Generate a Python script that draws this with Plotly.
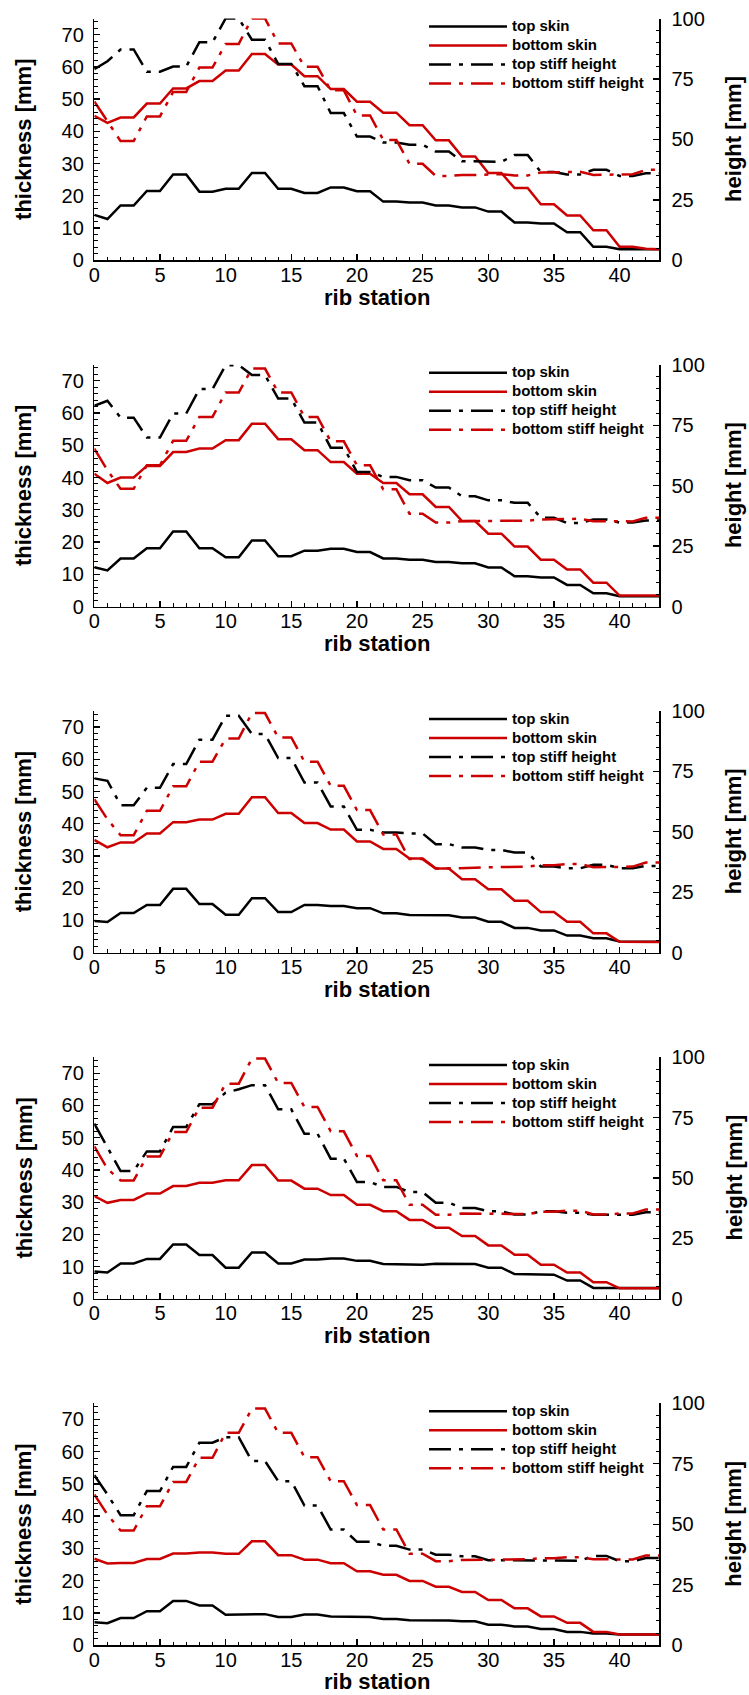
import plotly.graph_objects as go

W, H = 749, 1695

rib_station = list(range(44))
x_tick_vals = [0, 5, 10, 15, 20, 25, 30, 35, 40]
thickness_ticks = [0, 10, 20, 30, 40, 50, 60, 70]
height_ticks = [0, 25, 50, 75, 100]
series_names = ["top skin", "bottom skin", "top stiff height", "bottom stiff height"]
x_title = "rib station"
y_title_left = "thickness [mm]"
y_title_right = "height [mm]"

# ---- panel 1 ----
top_skin_1 = [14.1, 12.8, 17.0, 17.0, 21.5, 21.5, 26.6, 26.6, 21.3, 21.3, 22.2, 22.2, 27.1, 27.1, 22.2, 22.2, 20.9, 20.9, 22.6, 22.6, 21.4, 21.4, 18.2, 18.2, 17.9, 17.9, 17.0, 17.0, 16.4, 16.4, 15.1, 15.1, 11.7, 11.7, 11.4, 11.4, 8.7, 8.7, 4.2, 4.2, 3.4, 3.4, 3.4, 3.4]
bottom_skin_1 = [44.8, 42.6, 44.3, 44.3, 48.6, 48.6, 53.3, 53.3, 55.6, 55.6, 58.9, 58.9, 64.0, 64.0, 60.7, 60.7, 57.1, 57.1, 53.1, 53.1, 49.2, 49.2, 45.8, 45.8, 41.9, 41.9, 37.2, 37.2, 32.2, 32.2, 27.1, 27.1, 22.4, 22.4, 17.4, 17.4, 13.9, 13.9, 9.3, 9.3, 4.2, 4.2, 3.6, 3.4]
top_stiff_1 = [79.0, 82.3, 87.2, 87.2, 78.0, 78.0, 80.1, 80.1, 90.2, 90.2, 100.0, 100.0, 91.2, 91.2, 81.2, 81.2, 72.0, 72.0, 60.9, 60.9, 51.2, 51.2, 48.7, 48.7, 47.8, 47.8, 45.0, 45.0, 41.0, 41.0, 40.7, 40.7, 43.6, 43.6, 36.5, 36.5, 35.5, 35.5, 37.4, 37.4, 34.9, 34.9, 36.0, 36.0]
bottom_stiff_1 = [65.7, 57.4, 49.3, 49.3, 59.5, 59.5, 69.6, 69.6, 79.7, 79.7, 89.5, 89.5, 100.0, 100.0, 89.7, 89.7, 80.0, 80.0, 70.3, 70.3, 59.9, 59.9, 49.8, 49.8, 39.9, 39.9, 34.9, 34.9, 35.3, 35.3, 35.6, 35.6, 35.1, 35.1, 36.3, 36.3, 36.6, 36.6, 35.3, 35.3, 35.6, 35.6, 37.4, 37.4]

# ---- panel 2 ----
top_skin_2 = [12.2, 11.2, 14.9, 14.9, 18.1, 18.1, 23.3, 23.3, 18.1, 18.1, 15.3, 15.3, 20.5, 20.5, 15.6, 15.6, 17.3, 17.3, 17.9, 17.9, 16.9, 16.9, 14.9, 14.9, 14.5, 14.5, 13.8, 13.8, 13.4, 13.4, 12.1, 12.1, 9.4, 9.4, 9.0, 9.0, 6.7, 6.7, 4.1, 4.1, 3.2, 3.2, 3.2, 3.2]
bottom_skin_2 = [41.2, 38.3, 40.0, 40.0, 43.6, 43.6, 47.9, 47.9, 49.0, 49.0, 51.6, 51.6, 56.7, 56.7, 51.9, 51.9, 48.5, 48.5, 44.8, 44.8, 41.2, 41.2, 38.3, 38.3, 34.8, 34.8, 30.9, 30.9, 26.5, 26.5, 22.6, 22.6, 18.6, 18.6, 14.5, 14.5, 11.5, 11.5, 7.4, 7.4, 3.4, 3.4, 3.4, 3.4]
top_stiff_2 = [83.0, 85.1, 78.1, 78.1, 69.9, 69.9, 79.8, 79.8, 89.9, 89.9, 99.8, 99.8, 95.7, 95.7, 86.0, 86.0, 76.1, 76.1, 65.7, 65.7, 55.6, 55.6, 53.6, 53.6, 52.2, 52.2, 49.2, 49.2, 45.6, 45.6, 43.9, 43.9, 42.9, 42.9, 36.7, 36.7, 34.5, 34.5, 36.0, 36.0, 34.7, 34.7, 35.6, 35.6]
bottom_stiff_2 = [65.3, 56.3, 48.7, 48.7, 58.4, 58.4, 68.5, 68.5, 78.4, 78.4, 88.5, 88.5, 98.4, 98.4, 88.5, 88.5, 78.4, 78.4, 68.3, 68.3, 58.4, 58.4, 48.5, 48.5, 38.4, 38.4, 34.7, 34.7, 35.3, 35.3, 35.3, 35.3, 35.5, 35.5, 36.0, 36.0, 36.3, 36.3, 35.3, 35.3, 35.2, 35.2, 36.7, 36.7]

# ---- panel 3 ----
top_skin_3 = [9.8, 9.5, 12.3, 12.3, 14.8, 14.8, 19.8, 19.8, 15.1, 15.1, 11.8, 11.8, 16.9, 16.9, 12.6, 12.6, 14.8, 14.8, 14.5, 14.5, 13.8, 13.8, 12.2, 12.2, 11.7, 11.7, 11.6, 11.6, 10.9, 10.9, 9.6, 9.6, 7.7, 7.7, 6.9, 6.9, 5.3, 5.3, 4.5, 4.5, 3.5, 3.5, 3.4, 3.4]
bottom_skin_3 = [35.0, 32.7, 34.2, 34.2, 37.0, 37.0, 40.5, 40.5, 41.3, 41.3, 43.1, 43.1, 48.2, 48.2, 43.3, 43.3, 40.2, 40.2, 38.2, 38.2, 34.5, 34.5, 32.2, 32.2, 29.2, 29.2, 26.1, 26.1, 22.8, 22.8, 19.7, 19.7, 16.1, 16.1, 12.6, 12.6, 9.6, 9.6, 6.0, 6.0, 3.4, 3.4, 3.3, 3.3]
top_stiff_3 = [72.1, 71.1, 61.0, 61.0, 68.2, 68.2, 78.0, 78.0, 88.1, 88.1, 98.0, 98.0, 90.4, 90.4, 80.5, 80.5, 70.4, 70.4, 60.5, 60.5, 50.8, 50.8, 49.7, 49.7, 49.3, 49.3, 44.9, 44.9, 43.5, 43.5, 42.5, 42.5, 41.4, 41.4, 35.6, 35.6, 34.9, 34.9, 36.4, 36.4, 34.9, 34.9, 35.9, 35.9]
bottom_stiff_3 = [63.5, 55.2, 48.6, 48.6, 58.7, 58.7, 68.8, 68.8, 79.0, 79.0, 88.6, 88.6, 99.1, 99.1, 89.0, 89.0, 79.0, 79.0, 69.0, 69.0, 59.0, 59.0, 48.9, 48.9, 38.7, 38.7, 34.8, 34.8, 35.1, 35.1, 35.3, 35.3, 35.6, 35.6, 36.2, 36.2, 36.7, 36.7, 35.3, 35.3, 35.6, 35.6, 37.3, 37.3]

# ---- panel 4 ----
top_skin_4 = [8.5, 8.2, 11.0, 11.0, 12.4, 12.4, 16.9, 16.9, 13.6, 13.6, 9.7, 9.7, 14.4, 14.4, 11.0, 11.0, 12.2, 12.2, 12.5, 12.5, 11.8, 11.8, 10.8, 10.8, 10.6, 10.6, 10.9, 10.9, 10.8, 10.8, 9.7, 9.7, 7.7, 7.7, 7.5, 7.5, 5.7, 5.7, 3.4, 3.4, 3.4, 3.4, 3.4, 3.4]
bottom_skin_4 = [31.9, 29.8, 30.7, 30.7, 32.7, 32.7, 35.0, 35.0, 36.0, 36.0, 36.8, 36.8, 41.5, 41.5, 36.7, 36.7, 34.2, 34.2, 32.2, 32.2, 29.2, 29.2, 27.2, 27.2, 24.5, 24.5, 22.1, 22.1, 19.5, 19.5, 16.6, 16.6, 13.7, 13.7, 10.6, 10.6, 8.2, 8.2, 5.2, 5.2, 3.3, 3.3, 3.3, 3.3]
top_stiff_4 = [72.5, 62.8, 52.9, 52.9, 61.0, 61.0, 71.1, 71.1, 80.5, 80.5, 85.3, 86.7, 88.4, 88.4, 78.4, 78.4, 68.3, 68.3, 58.0, 58.0, 48.3, 48.3, 46.3, 46.3, 44.2, 44.2, 39.8, 39.8, 37.6, 37.6, 36.2, 36.2, 34.9, 34.9, 36.2, 36.2, 35.6, 35.6, 34.8, 34.8, 34.8, 34.8, 35.8, 35.8]
bottom_stiff_4 = [63.1, 53.8, 49.0, 49.0, 58.9, 58.9, 69.0, 69.0, 79.1, 79.1, 89.0, 89.0, 99.4, 99.4, 89.3, 89.3, 79.4, 79.4, 69.3, 69.3, 59.1, 59.1, 49.1, 49.1, 38.9, 38.9, 34.8, 34.8, 35.3, 35.3, 35.3, 35.3, 35.1, 35.1, 36.0, 36.0, 36.5, 36.5, 34.9, 34.9, 35.3, 35.3, 37.0, 37.0]

# ---- panel 5 ----
top_skin_5 = [7.1, 6.8, 8.4, 8.4, 10.5, 10.5, 13.7, 13.7, 12.3, 12.3, 9.4, 9.4, 9.6, 9.6, 8.7, 8.7, 9.5, 9.5, 8.9, 8.9, 8.7, 8.7, 8.1, 8.1, 7.7, 7.7, 7.6, 7.6, 7.4, 7.4, 6.3, 6.3, 5.8, 5.8, 5.0, 5.0, 4.1, 4.1, 3.6, 3.6, 3.3, 3.3, 3.3, 3.3]
bottom_skin_5 = [26.8, 25.3, 25.5, 25.5, 26.7, 26.7, 28.4, 28.4, 28.7, 28.7, 28.3, 28.3, 32.2, 32.2, 27.9, 27.9, 26.5, 26.5, 25.4, 25.4, 22.9, 22.9, 21.8, 21.8, 19.9, 19.9, 18.1, 18.1, 16.5, 16.5, 14.0, 14.0, 11.4, 11.4, 8.9, 8.9, 6.9, 6.9, 4.1, 4.1, 3.3, 3.3, 3.3, 3.3]
top_stiff_5 = [70.3, 62.3, 53.7, 53.7, 63.7, 63.7, 73.7, 73.7, 83.7, 83.7, 86.0, 86.0, 76.1, 76.1, 67.8, 67.8, 57.7, 57.7, 47.8, 47.8, 42.7, 42.7, 41.1, 41.1, 39.5, 39.5, 37.4, 37.4, 36.7, 36.7, 35.1, 35.1, 35.1, 35.1, 34.9, 34.9, 34.9, 34.9, 36.9, 36.9, 34.7, 34.7, 36.0, 36.0]
bottom_stiff_5 = [62.3, 54.0, 47.4, 47.4, 57.4, 57.4, 67.5, 67.5, 77.5, 77.5, 87.8, 87.8, 97.8, 97.8, 87.8, 87.8, 77.7, 77.7, 67.8, 67.8, 57.9, 57.9, 47.8, 47.8, 37.8, 37.8, 34.7, 34.7, 35.2, 35.2, 35.2, 35.2, 35.5, 35.5, 35.9, 35.9, 36.3, 36.3, 35.5, 35.5, 35.4, 35.4, 37.1, 37.1]

panels = [
    (top_skin_1, bottom_skin_1, top_stiff_1, bottom_stiff_1),
    (top_skin_2, bottom_skin_2, top_stiff_2, bottom_stiff_2),
    (top_skin_3, bottom_skin_3, top_stiff_3, bottom_stiff_3),
    (top_skin_4, bottom_skin_4, top_stiff_4, bottom_stiff_4),
    (top_skin_5, bottom_skin_5, top_stiff_5, bottom_stiff_5),
]

# ---- styling / layout constants ----
BLACK = "#000000"
RED = "#cc0000"
DASHDOT = "22px,8px,4px,8px"
LW = 2.5
FAMILY = "Liberation Sans, Arial, Helvetica, sans-serif"
TICK_FONT = dict(family=FAMILY, size=20, color="black")
TITLE_FONT = dict(family=FAMILY, size=22, color="black", weight="bold")
LEG_FONT = dict(family=FAMILY, size=12, color="black", weight="bold")
LEG_TEXT_PX = 15

X_LEFT_PX, X_RIGHT_PX = 94.3, 659.0
PANEL_TOP_PX, PANEL_BOT_PX, PANEL_STEP_PX = 18.5, 260.3, 346.2
LEG_X_PX, LEG_TOP_PX = 424.0, 12.0
XTITLE_Y_PX = 297.0
YTITLE_L_X_PX, YTITLE_R_X_PX = 23.5, 733.5

styles = [
    dict(color=BLACK, dash="solid"),
    dict(color=RED, dash="solid"),
    dict(color=BLACK, dash=DASHDOT),
    dict(color=RED, dash=DASHDOT),
]

fig = go.Figure()
layout = dict(
    width=W, height=H, margin=dict(l=0, r=0, t=0, b=0, autoexpand=False),
    paper_bgcolor="white", plot_bgcolor="white", template="none",
    showlegend=True,
)
annotations = []

for i, series in enumerate(panels):
    n = i + 1
    xa = "x" if n == 1 else f"x{n}"
    ya_l = "y" if n == 1 else f"y{2 * i + 1}"
    ya_r = f"y{2 * i + 2}"
    leg = "legend" if n == 1 else f"legend{n}"
    for k, (vals, name, st) in enumerate(zip(series, series_names, styles)):
        fig.add_trace(go.Scatter(
            x=rib_station, y=vals,
            name=f"<span style='font-size:{LEG_TEXT_PX}px'>{name}</span>",
            mode="lines",
            line=dict(color=st["color"], width=LW, dash=st["dash"]),
            xaxis=xa, yaxis=ya_l if k < 2 else ya_r,
            legend=leg, hoverinfo="skip",
        ))

    top_px = PANEL_TOP_PX + PANEL_STEP_PX * i
    bot_px = PANEL_BOT_PX + PANEL_STEP_PX * i
    ydom = [1 - bot_px / H, 1 - top_px / H]
    mid_px = (top_px + bot_px) / 2

    xkey = "xaxis" if n == 1 else f"xaxis{n}"
    ykey_l = "yaxis" if n == 1 else f"yaxis{2 * i + 1}"
    ykey_r = f"yaxis{2 * i + 2}"

    common = dict(
        ticks="inside", ticklen=6, tickwidth=1.3, tickcolor="black",
        showline=True, linecolor="black", linewidth=1.5, showgrid=False, zeroline=False,
        tickfont=TICK_FONT, automargin=False,
    )
    layout[xkey] = dict(
        domain=[X_LEFT_PX / W, X_RIGHT_PX / W], anchor=ya_l,
        range=[0, 43], tickvals=x_tick_vals, ticktext=[str(v) for v in x_tick_vals],
        minor=dict(ticks="inside", ticklen=3.5, tickwidth=1, dtick=1, tick0=0, tickcolor="black"),
        ticklabelstandoff=-4, **common,
    )
    layout[ykey_l] = dict(
        domain=ydom, anchor=xa, range=[0, 75], tickvals=thickness_ticks,
        minor=dict(ticks="inside", ticklen=3.5, tickwidth=1, dtick=2, tick0=0, tickcolor="black"),
        ticklabelstandoff=5, **common,
    )
    layout[ykey_r] = dict(
        overlaying=ya_l, side="right", anchor=xa, range=[0, 100], tickvals=height_ticks,
        minor=dict(ticks="inside", ticklen=3.5, tickwidth=1, dtick=5, tick0=0, tickcolor="black"),
        ticklabelstandoff=7, **common,
    )
    layout[leg] = dict(
        x=LEG_X_PX / W, xanchor="left",
        y=1 - (LEG_TOP_PX + PANEL_STEP_PX * i) / H, yanchor="top",
        bgcolor="rgba(0,0,0,0)", borderwidth=0, font=LEG_FONT,
        itemwidth=78, tracegroupgap=0,
    )

    annotations.append(dict(
        text=x_title, xref="paper", yref="paper",
        x=(X_LEFT_PX + X_RIGHT_PX) / 2 / W, y=1 - (XTITLE_Y_PX + PANEL_STEP_PX * i) / H,
        xanchor="center", yanchor="middle", showarrow=False, font=TITLE_FONT,
    ))
    annotations.append(dict(
        text=y_title_left, xref="paper", yref="paper", textangle=-90,
        x=YTITLE_L_X_PX / W, y=1 - mid_px / H,
        xanchor="center", yanchor="middle", showarrow=False, font=TITLE_FONT,
    ))
    annotations.append(dict(
        text=y_title_right, xref="paper", yref="paper", textangle=-90,
        x=YTITLE_R_X_PX / W, y=1 - mid_px / H,
        xanchor="center", yanchor="middle", showarrow=False, font=TITLE_FONT,
    ))

layout["annotations"] = annotations
fig.update_layout(**layout)
fig.write_html(
    "out.html",
    config={"displayModeBar": False, "staticPlot": True},
    post_script="document.body.style.margin='0px';",
)
